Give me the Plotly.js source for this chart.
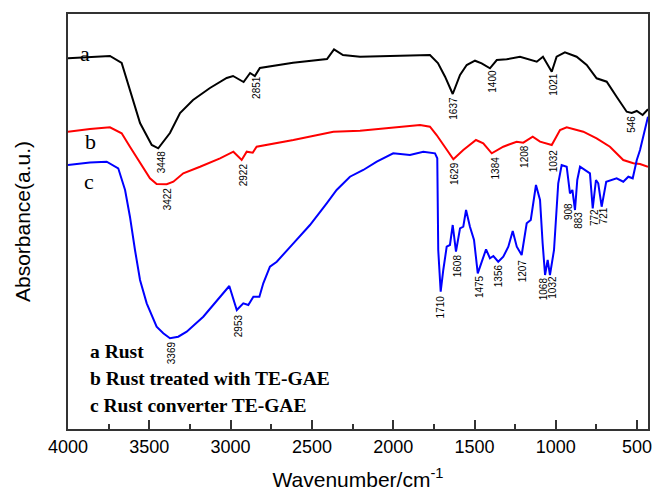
<!DOCTYPE html>
<html><head><meta charset="utf-8">
<script src="https://cdn.plot.ly/plotly-3.0.1.min.js"></script>
<style>html,body{margin:0;padding:0;background:#fff}#chart{width:653px;height:491px}</style>
</head><body><div id="chart"></div>
<script>
// Curve a: Rust
const waveA = [4000,3865,3742,3670,3619,3557,3485,3445,3373,3311,3231,3127,3024,2985,2920,2880,2851,2820,2616,2407,2364,2309,2204,1774,1725,1681,1634,1589,1548,1497,1456,1405,1363,1302,1220,1140,1117,1079,1025,995,944,872,810,749,687,626,564,533,502,466,433];
const absA  = [370.7,372,373,366,339,306,284,280.7,296,316,329,341,351,353,347,356,353,361,366.3,370,379.7,374,372.3,374,366,352.3,335,354,364,368.3,365.7,360.7,369,369.7,372.3,369,367.3,372.3,357.3,372.3,376.7,372.3,364,350.7,347.3,332.3,317.3,316,318,314,319.7];
// Curve b: Rust treated with TE-GAE
const waveB = [4000,3865,3742,3670,3619,3557,3496,3455,3393,3352,3291,3188,3065,2983,2932,2901,2864,2840,2614,2368,2204,1835,1774,1733,1671,1630,1569,1491,1446,1394,1323,1241,1200,1142,1097,1025,974,933,831,749,667,585,523,482,433];
const absB  = [297.3,300,301.7,295.7,282.3,265.7,250.7,245,244.7,247.3,255.7,262.3,270.7,277.3,269,277.3,276.3,282.3,289,297.3,298.3,304,302.3,294,279,269.7,279,289,285.7,275.7,282.3,287.3,286.3,292.3,287.3,284,299,301.7,297.3,290.7,282.3,269,265.7,265,262.3];
// Curve c: Rust converter TE-GAE
const waveC = [4000,3865,3762,3691,3649,3619,3588,3557,3516,3455,3414,3373,3322,3270,3168,3065,3008,2962,2922,2891,2860,2823,2799,2758,2716,2614,2512,2409,2348,2266,2184,2101,2000,1897,1815,1743,1729,1723,1708,1692,1671,1651,1634,1614,1589,1569,1552,1528,1503,1480,1450,1429,1405,1384,1354,1323,1292,1265,1240,1210,1179,1154,1122,1097,1081,1066,1050,1036,1011,985,964,933,913,898,882,868,851,810,790,773,753,739,718,690,626,585,554,527,502,482,462,433];
const absC  = [264,266.5,267.3,260.7,239,212.3,179,149,125.7,102.3,95.7,90.7,92.3,97.3,112.3,132.3,143,119,125.7,124,132.3,132.3,145.7,162.3,167.3,185.7,204,225.7,239,252.3,259,267.3,275.7,274,277.3,275.7,270.7,179,137.3,159,182.3,184,204,177.3,200.7,202.3,219,202.3,189,155.7,169,179.7,170.7,173,167.3,172.3,182.3,198,182.3,174,205.7,209,244,229,185.7,154,169,154,179,245.7,264,262.3,235.7,239,219,249,262.3,257.3,255.7,220.7,249,245.7,222.3,247.3,250.7,247.3,252.3,250.7,269,279,292.3,312.3];

// Peak labels
const peakText = ["2851","3448","1637","1400","1021","546",
                  "3422","2922","1629","1384","1208","1032",
                  "3369","2953","1710","1608","1475","1356","1207","1068","1032","908","883","772","721"];
const peakX = [2840,3424,1634,1394,1015,539,
               3389,2922,1626,1368,1196,1015,
               3362,2953,1708,1606,1472,1354,1206,1077,1025,923,865,765,708];
const peakY = [341.7,267.3,321,348,344.5,305,
               230,254,255,261.5,273,268,
               76.5,103,122.3,163,142,153,158,140,142,217.3,209,211,213];

const curveLetters = ["a","b","c"];
const legendLines = ["a Rust","b Rust treated with TE-GAE","c Rust converter TE-GAE"];
const tickVals = [4000,3500,3000,2500,2000,1500,1000,500];

const traces = [
  {x: waveA, y: absA, mode:'lines', line:{color:'#000000', width:2}},
  {x: waveB, y: absB, mode:'lines', line:{color:'#ff0000', width:2}},
  {x: waveC, y: absC, mode:'lines', line:{color:'#0000ff', width:2}}
];

const annotations = [];
peakText.forEach((t,i)=>{
  annotations.push({x: peakX[i], y: peakY[i], xref:'x', yref:'y', text:t, showarrow:false,
    xanchor:'center', yanchor:'middle',
    textangle:-90, font:{family:'Liberation Sans, Arial', size:10, color:'#000'}});
});
const letterPos = [[85,53],[90,141],[89,182]];
curveLetters.forEach((t,i)=>{
  annotations.push({x:(letterPos[i][0]-68)/580, y:(429-letterPos[i][1])/415, xref:'paper', yref:'paper',
    xanchor:'center', yanchor:'middle',
    text:t, showarrow:false, font:{family:'Liberation Serif, Times New Roman', size:22, color:'#000'}});
});
const legY = [351.7,378.3,405];
legendLines.forEach((t,i)=>{
  annotations.push({x:(88-68)/580, y:(429-legY[i])/415, xref:'paper', yref:'paper', xanchor:'left', yanchor:'middle',
    text:'<b>'+t+'</b>', showarrow:false, font:{family:'Liberation Serif, Times New Roman', size:19.5, color:'#000'}});
});

const layout = {
  width:653, height:491,
  margin:{l:68, r:5, t:14, b:62},
  paper_bgcolor:'#fff', plot_bgcolor:'#fff',
  showlegend:false,
  xaxis:{range:[4000,433], tickvals:tickVals, ticks:'inside', ticklen:9, tickwidth:2, tickcolor:'#333',
    showline:true, linecolor:'#333', linewidth:2, mirror:true, showgrid:false, zeroline:false,
    tickfont:{family:'Liberation Sans, Arial', size:18, color:'#000'},
    minor:{dtick:250, tick0:0, ticks:'inside', ticklen:5, tickwidth:2, tickcolor:'#333', showgrid:false},
    title:{text:'Wavenumber/cm<sup>-1</sup>', font:{family:'Liberation Sans, Arial', size:21, color:'#000'}, standoff:22}},
  yaxis:{range:[0,415], showticklabels:false, ticks:'', showline:true, linecolor:'#333', linewidth:2, mirror:true,
    showgrid:false, zeroline:false, automargin:false,
    title:{text:'Absorbance(a.u.)', font:{family:'Liberation Sans, Arial', size:21, color:'#000'}, standoff:30}},
  annotations: annotations
};
Plotly.newPlot('chart', traces, layout, {staticPlot:true, displayModeBar:false});
</script></body></html>
